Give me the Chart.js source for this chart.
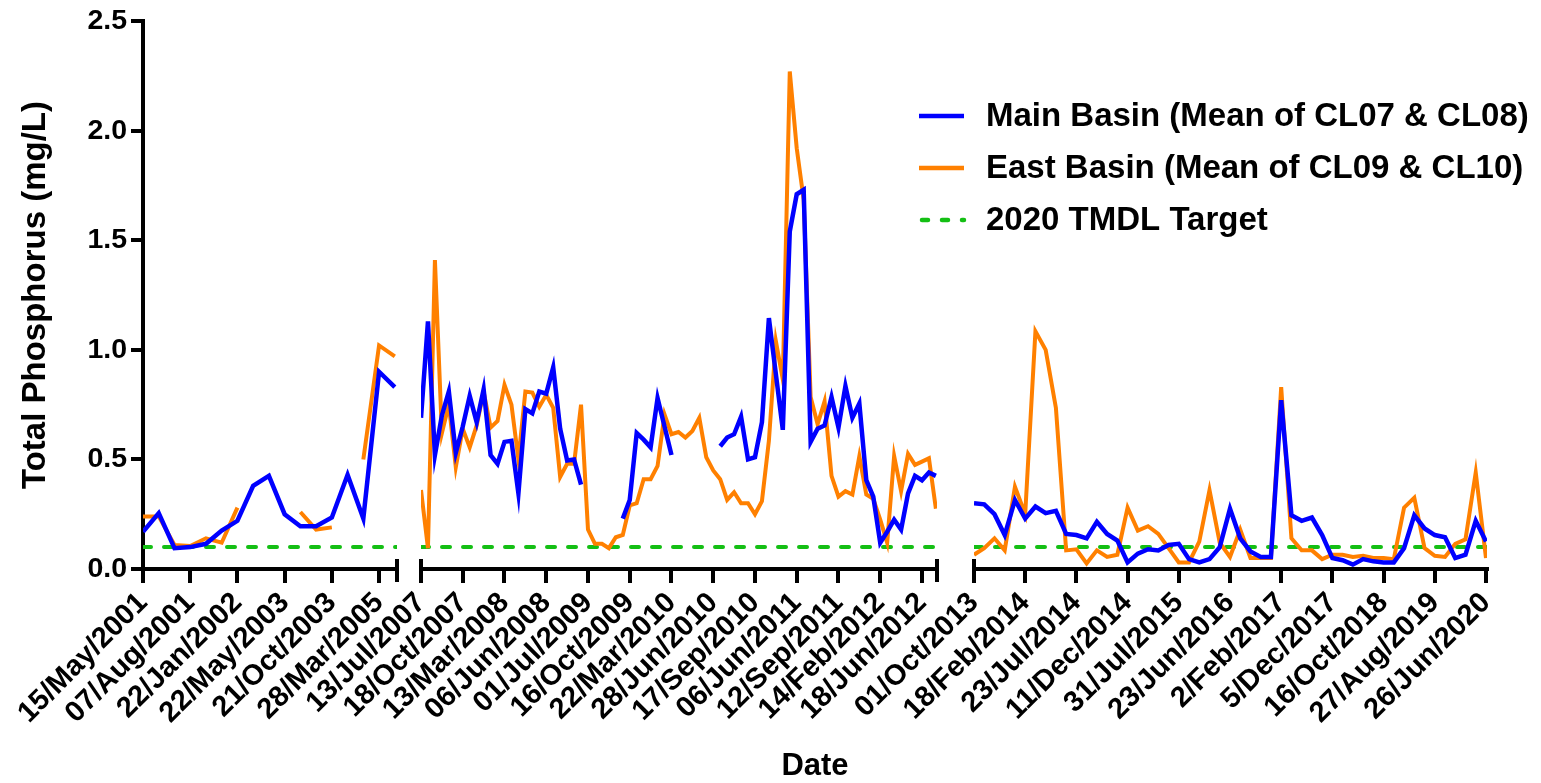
<!DOCTYPE html>
<html>
<head>
<meta charset="utf-8">
<title>Total Phosphorus</title>
<script src="https://cdn.jsdelivr.net/npm/chart.js@4.4.1/dist/chart.umd.min.js"></script>
<style>
  html, body { margin: 0; padding: 0; background: #fff; }
  #wrap { position: relative; width: 1541px; height: 783px; }
</style>
</head>
<body>
<div id="wrap"><canvas id="tp"></canvas></div>
<script>
// ---- sampling-date tick labels, one list per axis piece ----
const tickDates1 = ['15/May/2001', '07/Aug/2001', '22/Jan/2002', '22/May/2003', '21/Oct/2003', '28/Mar/2005'];
const tickDates2 = ['13/Jul/2007', '18/Oct/2007', '13/Mar/2008', '06/Jun/2008', '01/Jul/2009', '16/Oct/2009',
                    '22/Mar/2010', '28/Jun/2010', '17/Sep/2010', '06/Jun/2011', '12/Sep/2011', '14/Feb/2012', '18/Jun/2012'];
const tickDates3 = ['01/Oct/2013', '18/Feb/2014', '23/Jul/2014', '11/Dec/2014', '31/Jul/2015', '23/Jun/2016',
                    '2/Feb/2017', '5/Dec/2017', '16/Oct/2018', '27/Aug/2019', '26/Jun/2020'];

// ---- total phosphorus (mg/L), one value per sampling event; null = not sampled ----
const mainBasin1 = [0.17, 0.255, 0.095, 0.10, 0.115, 0.175, 0.22, 0.38, 0.425, 0.25, 0.195, 0.195, 0.235, 0.43, 0.23, 0.90, 0.83];
const eastBasin1 = [0.24, 0.24, 0.11, 0.105, 0.14, 0.12, 0.28, null, null, null, 0.26, 0.18, 0.19, null, 0.50, 1.02, 0.97];

const mainBasin2 = [0.69, 1.13, 0.52, 0.70, 0.81, 0.53, 0.65, 0.79, 0.67, 0.82,
                    0.52, 0.48, 0.58, 0.585, 0.345, 0.73, 0.71, 0.81, 0.80, 0.92,
                    0.64, 0.495, 0.50, 0.385, null, null, null, null, null, 0.23,
                    0.315, 0.62, 0.59, 0.555, 0.78, 0.65, 0.52, null, null, null,
                    null, null, null, 0.56, 0.60, 0.615, 0.695, 0.50, 0.51, 0.67,
                    1.145, 0.89, 0.635, 1.54, 1.71, 1.73, 0.58, 0.64, 0.655, 0.785,
                    0.645, 0.835, 0.69, 0.755, 0.405, 0.33, 0.12, 0.17, 0.225, 0.18,
                    0.345, 0.425, 0.405, 0.44, 0.425];
const eastBasin2 = [0.36, 0.095, 1.41, 0.62, 0.75, 0.465, 0.64, 0.555, 0.655, 0.81,
                    0.645, 0.675, 0.84, 0.75, 0.50, 0.81, 0.805, 0.74, 0.795, 0.735,
                    0.42, 0.48, 0.48, 0.75, 0.18, 0.115, 0.115, 0.095, 0.145, 0.155,
                    0.29, 0.30, 0.41, 0.41, 0.47, 0.705, 0.615, 0.625, 0.60, 0.63,
                    0.69, 0.51, 0.45, 0.41, 0.315, 0.35, 0.30, 0.30, 0.25, 0.31,
                    0.585, 1.04, 0.865, 2.27, 1.92, 1.685, 0.785, 0.66, 0.765, 0.425,
                    0.33, 0.355, 0.34, 0.515, 0.34, 0.32, 0.225, 0.12, 0.515, 0.355,
                    0.525, 0.475, 0.49, 0.505, 0.275];

const mainBasin3 = [0.30, 0.295, 0.25, 0.155, 0.315, 0.23, 0.285, 0.255, 0.265, 0.16,
                    0.155, 0.14, 0.215, 0.16, 0.13, 0.03, 0.07, 0.09, 0.085, 0.11,
                    0.115, 0.045, 0.03, 0.045, 0.10, 0.275, 0.14, 0.08, 0.055, 0.055,
                    0.77, 0.245, 0.22, 0.235, 0.155, 0.05, 0.04, 0.02, 0.045, 0.035,
                    0.03, 0.03, 0.095, 0.245, 0.185, 0.155, 0.145, 0.05, 0.065, 0.22,
                    0.125];
const eastBasin3 = [0.065, 0.095, 0.14, 0.085, 0.375, 0.25, 1.085, 1.00, 0.735, 0.085,
                    0.09, 0.025, 0.085, 0.055, 0.065, 0.28, 0.175, 0.195, 0.16, 0.095,
                    0.03, 0.03, 0.125, 0.36, 0.12, 0.055, 0.18, 0.05, 0.05, 0.05,
                    0.83, 0.14, 0.085, 0.085, 0.045, 0.065, 0.065, 0.055, 0.06, 0.05,
                    0.05, 0.045, 0.28, 0.325, 0.095, 0.06, 0.055, 0.115, 0.135, 0.44,
                    0.05];

// 2020 TMDL target concentration (mg/L)
const TARGET = 0.1;

// ---- styling ----
const FONT = '"Liberation Sans", Arial, Helvetica, sans-serif';
const BLUE = '#0000ff';
const ORANGE = '#ff8000';
const GREEN = '#14bf14';
const X_AXIS_H = 178;   // height reserved for the rotated date labels

// three broken pieces of the date axis; from/to are fractions of the plot width
const pieces = [
  { id: 'x1', dates: tickDates1, every: 3, span: 16.14, main: mainBasin1, east: eastBasin1, from: 0,       to: 0.18899 },
  { id: 'x2', dates: tickDates2, every: 6, span: 74.16, main: mainBasin2, east: eastBasin2, from: 0.20685, to: 0.59077 },
  { id: 'x3', dates: tickDates3, every: 5, span: 50.10, main: mainBasin3, east: eastBasin3, from: 0.61830, to: 1 }
];

const series = [
  { label: 'Main Basin (Mean of CL07 & CL08)', key: 'main', color: BLUE,   width: 4.5 },
  { label: 'East Basin (Mean of CL09 & CL10)', key: 'east', color: ORANGE, width: 4 }
];

const datasets = [];
series.forEach(s => pieces.forEach(p => {
  datasets.push({
    label: s.label,
    xAxisID: p.id,
    yAxisID: 'y',
    data: p[s.key].map((v, i) => ({ x: i, y: v })),
    borderColor: s.color,
    backgroundColor: s.color,
    borderWidth: s.width,
    pointRadius: 0,
    tension: 0,
    spanGaps: false,
    fill: false
  });
}));
pieces.forEach(p => {
  datasets.push({
    label: '2020 TMDL Target',
    xAxisID: p.id,
    yAxisID: 'y',
    data: [{ x: 0, y: TARGET }, { x: p.span, y: TARGET }],
    borderColor: GREEN,
    backgroundColor: GREEN,
    borderWidth: 4,
    borderDash: [8, 13],
    borderCapStyle: 'round',
    pointRadius: 0,
    fill: false
  });
});

function dateAxis(p, k) {
  return {
    type: 'linear',
    position: 'bottom',
    bounds: 'data',
    min: 0,
    max: p.span,
    afterFit: sc => { sc.height = k === 0 ? X_AXIS_H : 0; },
    afterBuildTicks: sc => { sc.ticks = p.dates.map((_, j) => ({ value: j * p.every })); },
    grid: { display: true, drawOnChartArea: false, drawTicks: true, tickLength: 14, lineWidth: 4, tickWidth: 4, tickColor: '#000', color: '#000' },
    border: { display: true, color: '#000', width: 4 },
    ticks: {
      autoSkip: false,
      maxRotation: 45,
      minRotation: 45,
      padding: 3,
      color: '#000',
      font: { family: FONT, size: 29, weight: 'bold' },
      callback: v => p.dates[Math.round(v / p.every)]
    }
  };
}

const scales = {
  y: {
    type: 'linear',
    position: 'left',
    min: 0,
    max: 2.5,
    afterFit: sc => { sc.width = 143; },
    grid: { display: true, drawOnChartArea: false, drawTicks: true, tickLength: 12, lineWidth: 4, tickWidth: 4, tickColor: '#000', color: '#000' },
    border: { display: true, color: '#000', width: 4 },
    ticks: {
      stepSize: 0.5,
      padding: 4,
      color: '#000',
      font: { family: FONT, size: 28.5, weight: 'bold' },
      callback: v => v.toFixed(1)
    },
    title: {
      display: true,
      text: 'Total Phosphorus (mg/L)',
      color: '#000',
      font: { family: FONT, size: 33, weight: 'bold' },
      padding: { top: 16, bottom: 0 }
    }
  }
};
pieces.forEach((p, k) => { scales[p.id] = dateAxis(p, k); });

// place the three date-axis pieces side by side under the plot
const brokenAxis = {
  id: 'brokenAxis',
  afterLayout(chart) {
    const a = chart.chartArea;
    const w = a.right - a.left;
    pieces.forEach(p => {
      const sc = chart.scales[p.id];
      sc.left = a.left + p.from * w;
      sc.right = a.left + p.to * w;
      sc.width = sc.right - sc.left;
      sc.top = a.bottom;
      sc.bottom = a.bottom + X_AXIS_H;
      sc.height = X_AXIS_H;
      sc.configure();
    });
  },
  afterDraw(chart) {
    // short cross marks at the ends of each interrupted piece
    const ctx = chart.ctx;
    const yb = chart.chartArea.bottom;
    const marks = [chart.scales.x1.right, chart.scales.x2.left, chart.scales.x2.right, chart.scales.x3.left];
    ctx.save();
    ctx.strokeStyle = '#000';
    ctx.lineWidth = 4;
    ctx.lineCap = 'butt';
    marks.forEach(x => {
      ctx.beginPath();
      ctx.moveTo(x, yb - 10);
      ctx.lineTo(x, yb + 13);
      ctx.stroke();
    });
    ctx.restore();
  }
};

// legend drawn inside the plot, one entry per series label
const seriesKey = {
  id: 'seriesKey',
  afterDraw(chart) {
    const ctx = chart.ctx;
    const seen = new Set();
    const entries = [];
    chart.data.datasets.forEach(ds => {
      if (!seen.has(ds.label)) { seen.add(ds.label); entries.push(ds); }
    });
    const x0 = 919, x1 = 964, tx = 986, y0 = 116, gap = 52;
    ctx.save();
    ctx.font = 'bold 33px ' + FONT;
    ctx.fillStyle = '#000';
    ctx.textAlign = 'left';
    ctx.textBaseline = 'middle';
    entries.forEach((ds, i) => {
      const y = y0 + i * gap;
      ctx.beginPath();
      ctx.strokeStyle = ds.borderColor;
      ctx.lineWidth = 4.5;
      if (ds.borderDash) {
        ctx.setLineDash([6, 14]);
        ctx.lineCap = 'round';
        ctx.moveTo(x0 + 3, y);
      } else {
        ctx.setLineDash([]);
        ctx.lineCap = 'butt';
        ctx.moveTo(x0, y);
      }
      ctx.lineTo(x1, y);
      ctx.stroke();
      ctx.fillText(ds.label, tx, y + 1);
    });
    ctx.restore();
  }
};

new Chart(document.getElementById('tp'), {
  type: 'line',
  data: { datasets },
  options: {
    responsive: true,
    maintainAspectRatio: false,
    devicePixelRatio: 1,
    animation: false,
    layout: { padding: { left: 0, right: 54, top: 18, bottom: 0 } },
    scales,
    plugins: {
      legend: { display: false },
      tooltip: { enabled: false },
      title: {
        display: true,
        text: 'Date',
        position: 'bottom',
        fullSize: false,
        align: 'center',
        color: '#000',
        font: { family: FONT, size: 31, weight: 'bold', lineHeight: 1 },
        padding: { top: 4, bottom: 1 }
      }
    }
  },
  plugins: [brokenAxis, seriesKey]
});
</script>
</body>
</html>
